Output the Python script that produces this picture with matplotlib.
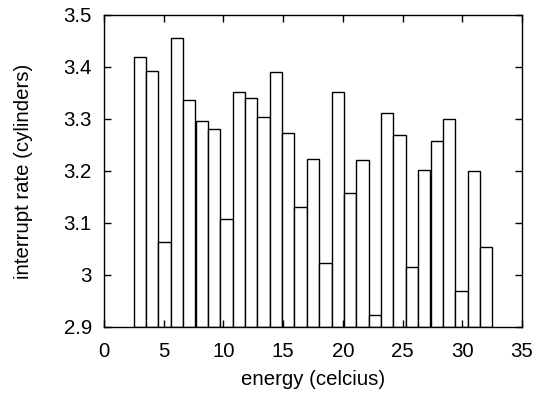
import matplotlib
matplotlib.use("Agg")
import matplotlib.pyplot as plt

plt.rcParams['font.family'] = ['Liberation Sans', 'DejaVu Sans']

x_vals = [3.0, 4.04, 5.07, 6.11, 7.14, 8.18, 9.21, 10.25, 11.29, 12.32,
          13.36, 14.39, 15.43, 16.46, 17.5, 18.54, 19.57, 20.61, 21.64, 22.68,
          23.71, 24.75, 25.79, 26.82, 27.86, 28.89, 29.93, 30.96, 32.0]
heights = [3.420, 3.393, 3.064, 3.455, 3.336, 3.297, 3.280, 3.108, 3.352, 3.341,
           3.303, 3.390, 3.274, 3.130, 3.223, 3.024, 3.352, 3.157, 3.222, 2.923,
           3.311, 3.270, 3.016, 3.202, 3.257, 3.300, 2.969, 3.200, 3.053]
xticks = [0, 5, 10, 15, 20, 25, 30, 35]
yticks = [2.9, 3.0, 3.1, 3.2, 3.3, 3.4, 3.5]
ytick_labels = ['2.9', '3', '3.1', '3.2', '3.3', '3.4', '3.5']

fig = plt.figure(figsize=(5.36, 3.94), dpi=100)
ax = fig.add_axes([104/536, 1-327/394, (522-104)/536, (327-15)/394])

base = 2.9
ax.bar(x_vals, [h - base for h in heights], bottom=base, width=1.0357,
       facecolor='white', edgecolor='black', linewidth=1.0, align='center')

ax.set_xlim(0, 35)
ax.set_ylim(2.9, 3.5)
ax.set_xticks(xticks)
ax.set_xticklabels([str(t) for t in xticks])
ax.set_yticks(yticks)
ax.set_yticklabels(ytick_labels)
ax.tick_params(direction='in', top=True, right=True, length=5, width=1,
               labelsize=14.7)
ax.tick_params(axis='y', pad=8.8)
ax.tick_params(axis='x', pad=10.5)
for s in ax.spines.values():
    s.set_linewidth(1.0)
ax.set_xlabel('energy (celcius)', fontsize=14.7, labelpad=7)
ax.set_ylabel('interrupt rate (cylinders)', fontsize=14.7, labelpad=22)

fig.savefig('out.png', dpi=100)
